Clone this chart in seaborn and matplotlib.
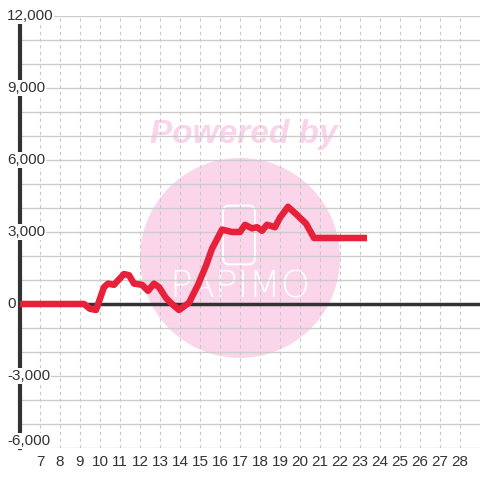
import pandas as pd
import seaborn as sns
import matplotlib.pyplot as plt
from matplotlib.patches import Ellipse, FancyBboxPatch

# values
days = [6, 9.2, 9.5, 9.8, 10.2, 10.4, 10.7, 11.2, 11.45, 11.7, 12.1, 12.4, 12.7, 12.95,
        13.3, 13.6, 13.95, 14.45, 14.9, 15.3, 15.6, 16.1, 16.6, 17.0, 17.25, 17.6, 17.85,
        18.1, 18.35, 18.75, 19.0, 19.4, 19.8, 20.3, 20.7, 23.35]
values = [0, 0, -200, -250, 700, 850, 800, 1250, 1200, 850, 800, 550, 850, 700,
          250, 0, -250, 50, 800, 1600, 2300, 3100, 3000, 3000, 3300, 3150, 3200,
          3050, 3300, 3200, 3600, 4050, 3750, 3350, 2750, 2750]
x_ticks = list(range(7, 29))
y_ticks = [-6000, -3000, 0, 3000, 6000, 9000, 12000]

df = pd.DataFrame({"day": days, "value": values})

sns.set_style("white")
plt.rcParams['font.family'] = ['Liberation Sans', 'DejaVu Sans']

fig = plt.figure(figsize=(4.8, 4.8), dpi=100)
ax = fig.add_axes([20 / 480, 32 / 480, 460 / 480, 432 / 480])

# watermark
ax.add_patch(Ellipse((17, 1917), 10, 8330, color="#fbd5ea", lw=0, zorder=0))
ax.add_patch(FancyBboxPatch((16.15, 1650), 1.6, 2450, boxstyle="round,pad=0,rounding_size=0.3",
                            fill=False, ec="white", lw=1.5, zorder=0.5, mutation_aspect=1000))
ax.text(17, 700, "PAPIMO", color="white", fontsize=27, ha="center", va="center",
        zorder=0.5, fontfamily="DejaVu Sans", fontweight="light")
ax.text(12.5, 7050, "Powered by", color="#fbd3ea", fontsize=24, fontweight="bold",
        fontstyle="italic", ha="left", va="center", zorder=0.5)

# grid
for v in range(-6000, 12001, 1000):
    ax.axhline(v, color="#cccccc", lw=1, zorder=1)
for d in x_ticks:
    ax.axvline(d, color="#c8c8c8", lw=0.8, ls=(0, (3, 3)), zorder=1)
ax.axhline(0, color="#333333", lw=2.5, zorder=2)

sns.lineplot(data=df, x="day", y="value", color="#e8213a", lw=4.7, ax=ax, zorder=3,
             solid_joinstyle="round", solid_capstyle="butt")

ax.set_xlim(6, 29)
ax.set_ylim(-6000, 12000)
for s in ["top", "right", "bottom"]:
    ax.spines[s].set_visible(False)
ax.spines["left"].set_color("#333333")
ax.spines["left"].set_linewidth(3)
ax.spines["left"].set_bounds(-6000, 11700)
ax.spines["left"].set_zorder(2)

ax.set_yticks([])
ax.set_xticks(x_ticks)
ax.set_xticklabels([str(t) for t in x_ticks], fontsize=11, color="#333333")
ax.tick_params(axis="x", length=0, pad=5)
ax.set_xlabel("")
ax.set_ylabel("")

for v in y_ticks:
    pos = v + 300 if v == -6000 else v
    ax.text(6 - 13 / 20, pos, f"{v:,}", fontsize=11, color="#333333", ha="left", va="center",
            zorder=5, clip_on=False,
            bbox=dict(facecolor="white", edgecolor="none", pad=0.5))

fig.savefig("out.png", dpi=100)
